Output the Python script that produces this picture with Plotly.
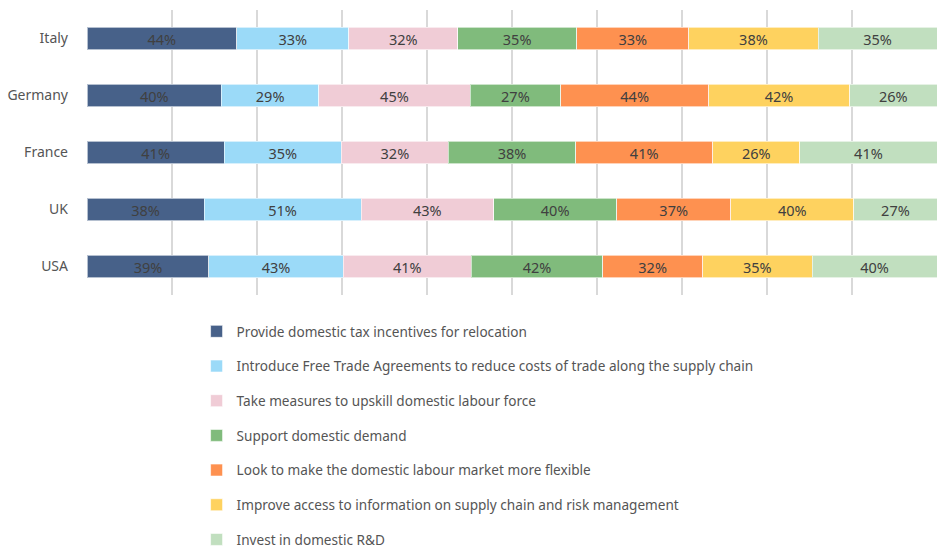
import plotly.graph_objects as go

countries = ["Italy", "Germany", "France", "UK", "USA"]
series_names = [
    "Provide domestic tax incentives for relocation",
    "Introduce Free Trade Agreements to reduce costs of trade along the supply chain",
    "Take measures to upskill domestic labour force",
    "Support domestic demand",
    "Look to make the domestic labour market more flexible",
    "Improve access to information on supply chain and risk management",
    "Invest in domestic R&D",
]
tax_incentives = [44, 40, 41, 38, 39]
free_trade = [33, 29, 35, 51, 43]
upskill = [32, 45, 32, 43, 41]
domestic_demand = [35, 27, 38, 40, 42]
labour_flex = [33, 44, 41, 37, 32]
info_access = [38, 42, 26, 40, 35]
rnd = [35, 26, 41, 27, 40]

series_values = [tax_incentives, free_trade, upskill, domestic_demand, labour_flex, info_access, rnd]
colors = ["#476189", "#9bdaf8", "#f0ccd6", "#80bb7c", "#fe9150", "#fed25f", "#c1dfbf"]

FONT = "Noto Sans"
fig = go.Figure()
for i, (name, vals, col) in enumerate(zip(series_names, series_values, colors)):
    fig.add_trace(go.Bar(
        y=countries, x=vals, name=name, orientation="h",
        marker=dict(color=col, line=dict(color="rgba(255,255,255,0.6)", width=1)),
        text=[f"{v}%" for v in vals], textposition="inside", insidetextanchor="middle",
        textangle=0, constraintext="none",
        textfont=dict(color="#404040", size=14.5, family=FONT),
        legendgroup=f"g{i}", hoverinfo="skip",
    ))

fig.update_layout(
    barmode="stack", barnorm="percent", bargap=0.6,
    width=937, height=548,
    margin=dict(l=87, r=0, t=10, b=253, autoexpand=False),
    plot_bgcolor="white", paper_bgcolor="white",
    font=dict(family=FONT, color="#555555", size=14),
    xaxis=dict(range=[0, 100], dtick=10, showticklabels=False, showgrid=True,
               gridcolor="#d9d9d9", gridwidth=1.5, zeroline=False, showline=False, fixedrange=True),
    yaxis=dict(autorange="reversed", showgrid=False, ticks="", ticklabelstandoff=18,
               tickfont=dict(size=14, color="#555555")),
    legend=dict(orientation="v", xref="container", yref="container", x=0.2098, y=1 - 316 / 548,
                xanchor="left", yanchor="top", tracegroupgap=14, traceorder="grouped",
                font=dict(size=13.6, color="#555555"), itemwidth=30),
)
fig.write_html("out.html", post_script="document.body.style.margin='0';",
               config={"displayModeBar": False})
